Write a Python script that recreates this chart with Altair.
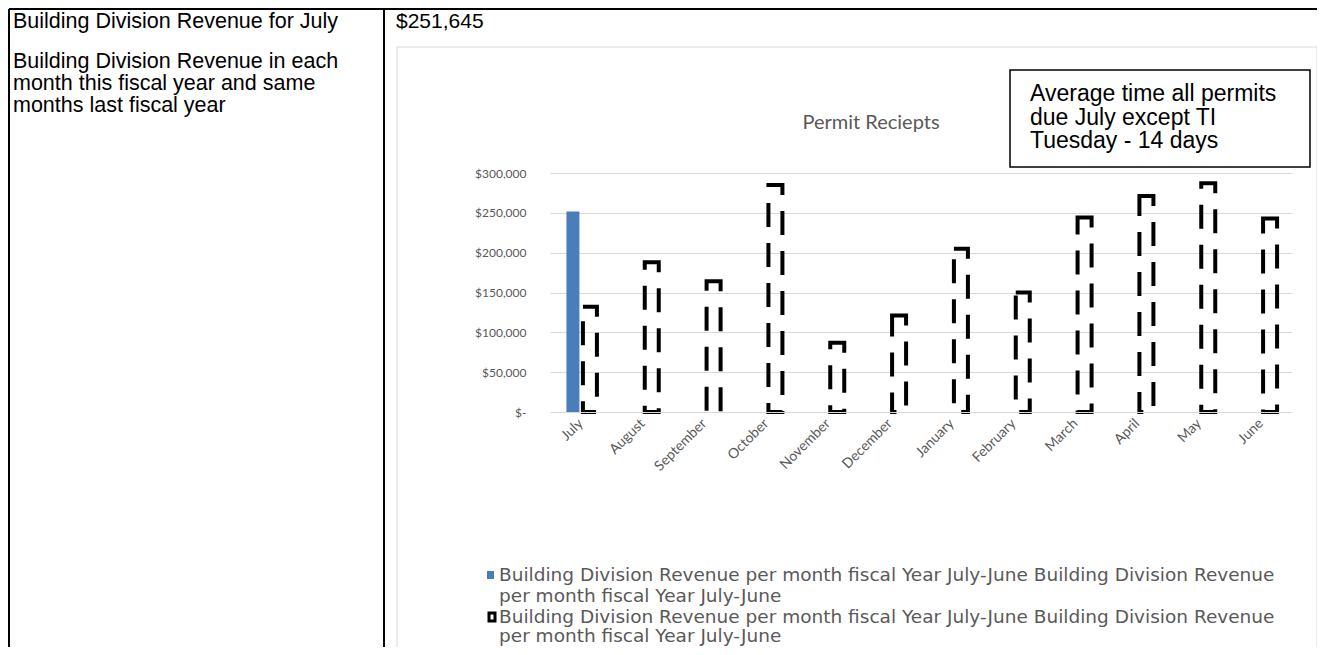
import altair as alt
import pandas as pd

# ---------------- data ----------------
months = ["July", "August", "September", "October", "November", "December",
          "January", "February", "March", "April", "May", "June"]
this_year = [251645, None, None, None, None, None, None, None, None, None, None, None]
last_year = [132000, 188000, 164000, 285000, 87000, 121000,
             205000, 150000, 244000, 271000, 287000, 243000]
y_ticks = [0, 50000, 100000, 150000, 200000, 250000, 300000]

row1_label = ["Building Division Revenue for July"]
row1_value = ["$251,645"]
row2_label = ["Building Division Revenue in each", "month this fiscal year and same", "months last fiscal year"]
chart_title = ["Permit Reciepts"]
note_lines = ["Average time all permits", "due July except TI", "Tuesday - 14 days"]
legend_lines = ["Building Division Revenue  per month  fiscal Year July-June Building Division Revenue",
                "per month  fiscal Year July-June"]

# ---------------- geometry (page pixels) ----------------
PX0, PY0 = 550, 173      # plot area top-left on page
W, H = 742, 239          # plot area size


def rx(X):
    return X - PX0


def ry(Y):
    return Y - PY0


one = alt.Data(values=[{"k": 1}])
CHART_FONT = "Lato"
DOC_FONT = "Liberation Sans"
LEG_FONT = "DejaVu Sans"
GREY = "#595959"

df = pd.DataFrame({"month": months, "this_year": this_year, "last_year": last_year})

x_enc = alt.X("month:N", sort=months,
              scale=alt.Scale(paddingInner=0, paddingOuter=0),
              axis=alt.Axis(title=None, labelAngle=-45, labelAlign="right", labelBaseline="middle",
                            labelFont=CHART_FONT, labelFontSize=14, labelColor=GREY,
                            ticks=False, domainColor="#d9d9d9", domainWidth=1, labelPadding=9,
                            grid=False, zindex=1))
y_axis = alt.Axis(title=None, values=y_ticks, grid=True, gridColor="#d9d9d9", gridWidth=1,
                  domain=False, ticks=False, labelPadding=24, labelFont=CHART_FONT,
                  labelFontSize=12, labelColor=GREY,
                  labelExpr="datum.value == 0 ? '$-\u00a0\u00a0\u00a0\u00a0\u00a0' : '$' + format(datum.value, ',')")
y_scale = alt.Scale(domain=[0, 300000], nice=False)

blue = alt.Chart(df).mark_bar(color="#4a7ebb", width=13, xOffset=-8).encode(
    x=x_enc, y=alt.Y("this_year:Q", scale=y_scale, axis=y_axis))
dashed = alt.Chart(df).mark_bar(fill="transparent", stroke="black", strokeWidth=4,
                                strokeDash=[24, 16], width=14, xOffset=9).encode(
    x=x_enc, y=alt.Y("last_year:Q", scale=y_scale, axis=y_axis))

layers = []


def rule(x1, y1, x2, y2, color="black", width=2):
    layers.append(alt.Chart(one).mark_rule(color=color, strokeWidth=width).encode(
        x=alt.value(rx(x1)), y=alt.value(ry(y1)), x2=alt.value(rx(x2)), y2=alt.value(ry(y2))))


def box(x1, y1, x2, y2, stroke, fill, width):
    layers.append(alt.Chart(one).mark_rect(stroke=stroke, fill=fill, strokeWidth=width).encode(
        x=alt.value(rx(x1)), y=alt.value(ry(y1)), x2=alt.value(rx(x2)), y2=alt.value(ry(y2))))


def text(s, X, Y, size, color="black", font=DOC_FONT, align="left"):
    layers.append(alt.Chart(one).mark_text(text=s, font=font, fontSize=size, color=color,
                                           align=align, baseline="middle").encode(
        x=alt.value(rx(X)), y=alt.value(ry(Y))))


# chart area frame (light)
box(397, 47, 1317, 700, "#d9d9d9", "transparent", 1)

# table borders
rule(9, 9, 1325, 9)
rule(9, 9, 9, 655)
rule(384, 9, 384, 655)

# document texts
text(row1_label[0], 13, 22, 21.5)
text(row1_value[0], 396, 22, 21)
for i, s in enumerate(row2_label):
    text(s, 13, 62 + i * 22, 21.5)

# chart title
text(chart_title[0], 871, 123, 20, color=GREY, font=CHART_FONT, align="center")

# legend
box(487, 571, 494, 579, "#4a7ebb", "#4a7ebb", 0)
text(legend_lines[0], 499, 575, 18.5, color=GREY, font=LEG_FONT)
text(legend_lines[1], 499, 596, 18.5, color=GREY, font=LEG_FONT)
box(489, 613, 495, 621, "black", "white", 3)
text(legend_lines[0], 499, 617, 18.5, color=GREY, font=LEG_FONT)
text(legend_lines[1], 499, 636, 18.5, color=GREY, font=LEG_FONT)

# note box (drawn over chart)
layers_before = list(layers)
layers = []
box(1010, 70, 1310, 167, "black", "white", 1.5)
for i, s in enumerate(note_lines):
    text(s, 1030, 94 + i * 23.5, 23)
note_layers = layers

chart = alt.layer(*layers_before, blue, dashed, *note_layers).properties(
    width=W, height=H,
    autosize=alt.AutoSizeParams(type="none"),
    padding={"left": PX0 - 8, "top": PY0 - 8, "right": 1309 - (PX0 - 8) - W,
             "bottom": 639 - (PY0 - 8) - H},
).configure_view(stroke=None)

chart.save("out.html", embed_options={"renderer": "svg", "actions": False})
